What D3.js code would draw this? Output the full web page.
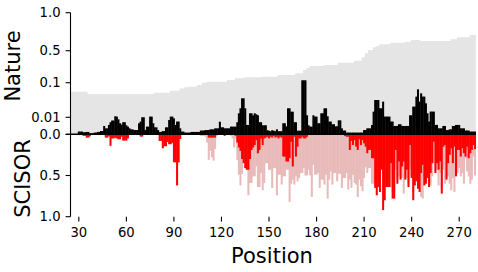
<!DOCTYPE html>
<html><head><meta charset="utf-8">
<script src="https://cdn.jsdelivr.net/npm/d3@7/dist/d3.min.js"></script>
<style>body{margin:0;background:#fff}svg{display:block}</style>
</head><body>
<svg id="chart" width="478" height="272"></svg>
<script>
// ---------------- data ----------------
const positionStart = 25;
const positionEnd = 280;
const positions = d3.range(positionStart, positionEnd + 1);

// Nature (top, black bars), one value per position 25..280
const natureValues = [
  0,.0002,.0002,.0002,.0002,.0016,.0016,.0016,.0012,.0012,
  .0014,.0014,.0006,.0006,.0006,.001,.001,.0014,.0014,.0019,
  .0019,.0049,.0035,.0035,.0055,.0071,.0081,.0081,.0126,.0118,
  .0088,.0065,.0057,.0071,.0071,.0053,.0045,.0035,.0029,.0029,
  .0025,.0025,.0025,.0065,.0075,.01,.01,.0025,.0045,.0045,
  .0118,.0118,.0065,.0041,.0041,.0025,.0014,.0014,.0019,.0019,
  .0041,.0041,.0084,.0118,.0118,.0094,.0055,.0075,.0075,.0035,
  .0016,.0016,.001,.001,.001,.001,.0014,.0014,.0014,.0014,
  .0014,.0014,.0022,.0022,.0022,.0025,.0025,.0025,.0029,.0029,
  .0029,.0035,.0035,.0035,.0074,.0041,.0041,.0035,.0035,.0035,
  .0035,.0045,.0045,.0045,.0045,.0071,.0204,.0334,.0594,.0594,
  .0334,.0055,.0055,.0204,.0204,.0152,.0204,.0178,.0152,.0071,
  .0071,.0053,.0053,.0053,.0024,.0021,.0018,.0024,.0021,.0018,
  .0029,.0018,.0018,.0018,.0065,.0065,.0047,.0334,.0334,.0246,
  .0246,.0071,.0071,.0021,.0021,.0021,.13,.13,.13,.0152,
  .0053,.0045,.0045,.0152,.0118,.0118,.0065,.0065,.0204,.0204,
  .0334,.0334,.0126,.0075,.0075,.0059,.0059,.0047,.0047,.0082,
  .0082,.0035,.0022,.0022,.001,.001,.001,.001,.001,.001,
  .001,.001,.001,.001,.001,.0025,.0025,.0035,.0035,.0035,
  .0055,.0248,.055,.055,.055,.0334,.0334,.0508,.0118,.0118,
  .0118,.0118,.0075,.0075,.0049,.0049,.0049,.0059,.0059,.0049,
  .0049,.0049,.0049,.0049,.0152,.0152,.0378,.0378,.0638,.0828,
  .0508,.0724,.0638,.0638,.0464,.0204,.0075,.0248,.0248,.0248,
  .0055,.0055,.0035,.0035,.0035,.0049,.0049,.0025,.0025,.0029,
  .0029,.0049,.0049,.0055,.0055,.0055,.0035,.0035,.0035,.0022,
  .0022,.0022,.0016,.0016,.0016,.0016
];

// Nature cumulative (grey background), as steps: first position of each step and its level
const grayStepStart = [25,36,78,88,94,97,100,105,108,111,124,129,135,146,156,167,172,174,176,185,194,204,209,211,213,216,218,220,227,236,240,246,265,269,277];
const grayStepLevel = [.0766,.0706,.074,.079,.085,.088,.0896,.094,.1,.1125,.134,.155,.1675,.175,.196,.2175,.259,.28,.309,.321,.35,.375,.4175,.4675,.509,.545,.562,.584,.605,.618,.641,.628,.65,.676,.707];

// SCISOR (bottom, red bars), positions 25..280
const scisorValues = [
  0,0,0,0,0,0,0,0,.02,.02,
  .04,.04,.025,0,0,0,0,0,0,0,
  0,0,.04,.04,.025,.14,.05,.05,.042,.05,
  .06,.06,.03,.076,.076,.076,.05,0,0,0,
  0,0,0,0,.028,.028,0,0,0,0,
  0,0,0,0,0,0,.08,.08,.17,.145,
  .145,.093,.12,.12,.105,.34,.34,.62,.34,.057,
  0,0,0,0,0,0,0,0,0,0,
  0,0,0,0,0,0,0,.04,.04,.04,
  .04,.04,0,0,0,0,0,.02,0,0,
  0,0,0,0,.02,.1,.16,.2,.3,.35,
  .41,.43,.43,.3,.19,.16,.13,.07,.23,.19,
  .05,.13,.05,.04,.03,.05,.03,.04,.02,.04,
  .03,.05,.03,.04,.27,.27,.33,.33,.29,.09,
  .39,.03,.27,.15,.05,.05,.03,.05,.05,.03,
  0,0,0,0,0,0,0,0,0,0,
  0,0,0,0,0,0,0,0,0,0,
  0,0,0,.02,.03,.03,.19,.08,.13,.07,
  .15,.19,.06,.13,.07,.11,.15,.23,.19,.19,
  .29,.29,.65,.74,.64,.7,.43,.92,.8,.64,
  .64,.64,.35,.78,.78,.19,.6,.33,.55,.39,
  .33,.55,.43,.64,.13,.53,.8,.62,.57,.66,
  .7,.47,.37,.62,.6,.53,.64,.47,.35,.09,
  .47,.35,.43,.33,.72,.15,.13,.55,.35,.25,
  .17,.35,.15,.51,.19,.19,.27,.17,.23,.27,
  .15,.29,.23,.19,.13,.18
];

// SCISOR second series (bottom, light pink bars behind), positions 25..280
const scisorAllValues = [
  0,0,0,0,0,0,0,0,0,0,
  0,0,0,0,0,0,0,0,0,0,
  0,0,0,0,0,0,0,0,0,0,
  0,0,0,0,0,0,0,0,0,0,
  0,0,0,0,0,0,0,0,0,0,
  0,0,0,0,0,0,0,0,0,0,
  0,0,0,0,0,0,0,0,0,0,
  0,0,0,0,0,0,0,0,0,0,
  0,0,.02,.02,.02,.03,.1,.31,.2,.28,
  .32,.18,.02,0,0,0,0,0,0,0,
  0,.02,.05,.16,.05,.31,.49,.62,.48,.3,
  .35,.4,.74,.59,.59,.51,.51,.39,.64,.64,
  .47,.68,.59,.35,.35,.43,.43,.65,.41,.41,
  .74,.49,.49,.61,.51,.51,.43,.43,.82,.6,
  .55,.61,.51,.57,.53,.47,.47,.41,.5,.5,
  .43,.5,.76,.37,.49,.49,.47,.65,.55,.55,
  .61,.49,.78,.55,.45,.61,.47,.47,.57,.48,
  .48,.65,.53,.53,.47,.67,.55,.65,.49,.59,
  .61,.76,.55,.63,.69,.53,.4,.47,.41,.41,
  .6,.6,.55,.55,.55,.55,.4,.55,.55,.55,
  .55,.6,.64,.7,.7,.43,.55,.51,.5,.53,
  .72,.5,.53,.6,.43,.5,.7,.55,.5,.6,
  .6,.76,.78,.55,.55,.5,.6,.62,.51,.35,
  .45,.43,.62,.47,.65,.43,.6,.5,.51,.6,
  .68,.53,.7,.48,.47,.41,.51,.47,.6,.29,
  .45,.51,.6,.55,.27,.5
];

const natureTicks = [0, 0.01, 0.1, 0.5, 1.0];
const natureTickLabels = ["0.0", "0.01", "0.1", "0.5", "1.0"];
const scisorTicks = [0, 0.5, 1.0];
const scisorTickLabels = ["0.0", "0.5", "1.0"];
const xTicks = [30, 60, 90, 120, 150, 180, 210, 240, 270];

// ---------------- layout ----------------
const svg = d3.select("#chart");
const left = 70.5, right = 476;
const topY = 12.7, midY = 134.3, botY = 216.7;
const font = "'DejaVu Sans', sans-serif";

const x = d3.scaleLinear().domain([24.75, 280.6]).range([left, right]);
// non-uniform (stretched-near-zero) scale for Nature
const yTop = d3.scaleLinear().domain([0, 0.01, 0.1, 0.5, 1.0]).range([midY, 117.3, 82.7, 50.7, topY]);
const yBot = d3.scaleLinear().domain([0, 1]).range([midY, botY]);

svg.append("defs").append("clipPath").attr("id", "plot")
  .append("rect").attr("x", left).attr("y", 0).attr("width", right - left).attr("height", 272);

const g = svg.append("g").attr("clip-path", "url(#plot)");

// grey step area
const grayPts = grayStepStart.map((s, i) => ({x: s - 0.5, v: grayStepLevel[i]}));
grayPts.push({x: positionEnd + 0.5, v: grayStepLevel[grayStepLevel.length - 1]});
g.append("path").datum(grayPts)
  .attr("fill", "#e5e5e5")
  .attr("d", d3.area().x(d => x(d.x)).y0(yTop(0)).y1(d => yTop(d.v)).curve(d3.curveStepAfter));

const bw = 1.0;
const overlap = 0.45; // px, hides anti-aliasing seams between neighbouring bars
const barW = x(bw) - x(0) + overlap;
const data = positions.map((p, i) => ({p, n: natureValues[i], r: scisorValues[i], a: scisorAllValues[i]}));

// pink (behind)
g.append("g").selectAll("rect").data(data.filter(d => d.a > 0)).join("rect")
  .attr("x", d => x(d.p - bw / 2) - overlap / 2).attr("width", barW)
  .attr("y", yBot(0)).attr("height", d => yBot(d.a) - yBot(0))
  .attr("fill", "#e8baba");
// red
g.append("g").selectAll("rect").data(data.filter(d => d.r > 0)).join("rect")
  .attr("x", d => x(d.p - bw / 2) - overlap / 2).attr("width", barW)
  .attr("y", yBot(0)).attr("height", d => yBot(d.r) - yBot(0))
  .attr("fill", "#ff0000");
// black
g.append("g").selectAll("rect").data(data.filter(d => d.n > 0)).join("rect")
  .attr("x", d => x(d.p - bw / 2) - overlap / 2).attr("width", barW)
  .attr("y", d => yTop(d.n)).attr("height", d => yTop(0) - yTop(d.n))
  .attr("fill", "#000");

// zero line
svg.append("line").attr("x1", left).attr("x2", x(positionEnd + 0.5))
  .attr("y1", yTop(0)).attr("y2", yTop(0)).attr("stroke", "#000").attr("stroke-width", 1.4);

// left spine
svg.append("line").attr("x1", left).attr("x2", left).attr("y1", topY).attr("y2", botY)
  .attr("stroke", "#000").attr("stroke-width", 1.1);

const tickLen = 4.9, tickFs = 13.2;
// Nature ticks
natureTicks.forEach((t, i) => {
  const yy = yTop(t);
  svg.append("line").attr("x1", left - tickLen).attr("x2", left).attr("y1", yy).attr("y2", yy)
    .attr("stroke", "#000").attr("stroke-width", 1.1);
  if (t !== 0) svg.append("text").attr("x", left - tickLen - 5).attr("y", yy).attr("dy", "0.36em")
    .attr("text-anchor", "end").attr("font-family", font).attr("font-size", tickFs).text(natureTickLabels[i]);
});
// SCISOR ticks
scisorTicks.forEach((t, i) => {
  const yy = yBot(t);
  svg.append("line").attr("x1", left - tickLen).attr("x2", left).attr("y1", yy).attr("y2", yy)
    .attr("stroke", "#000").attr("stroke-width", 1.1);
  svg.append("text").attr("x", left - tickLen - 5).attr("y", yy).attr("dy", "0.36em")
    .attr("text-anchor", "end").attr("font-family", font).attr("font-size", tickFs).text(scisorTickLabels[i]);
});
// x ticks (no spine)
xTicks.forEach(t => {
  svg.append("line").attr("x1", x(t)).attr("x2", x(t)).attr("y1", botY).attr("y2", botY + tickLen)
    .attr("stroke", "#000").attr("stroke-width", 1.1);
  svg.append("text").attr("x", x(t)).attr("y", 236.5).attr("text-anchor", "middle")
    .attr("font-family", font).attr("font-size", tickFs).text(t);
});

// axis labels
svg.append("text").attr("transform", "translate(20,66) rotate(-90)").attr("text-anchor", "middle")
  .attr("font-family", font).attr("font-size", 21).text("Nature");
svg.append("text").attr("transform", "translate(30,178.5) rotate(-90)").attr("text-anchor", "middle")
  .attr("font-family", font).attr("font-size", 21).text("SCISOR");
svg.append("text").attr("x", 272).attr("y", 262.5).attr("text-anchor", "middle")
  .attr("font-family", font).attr("font-size", 21).text("Position");
</script>
</body></html>
